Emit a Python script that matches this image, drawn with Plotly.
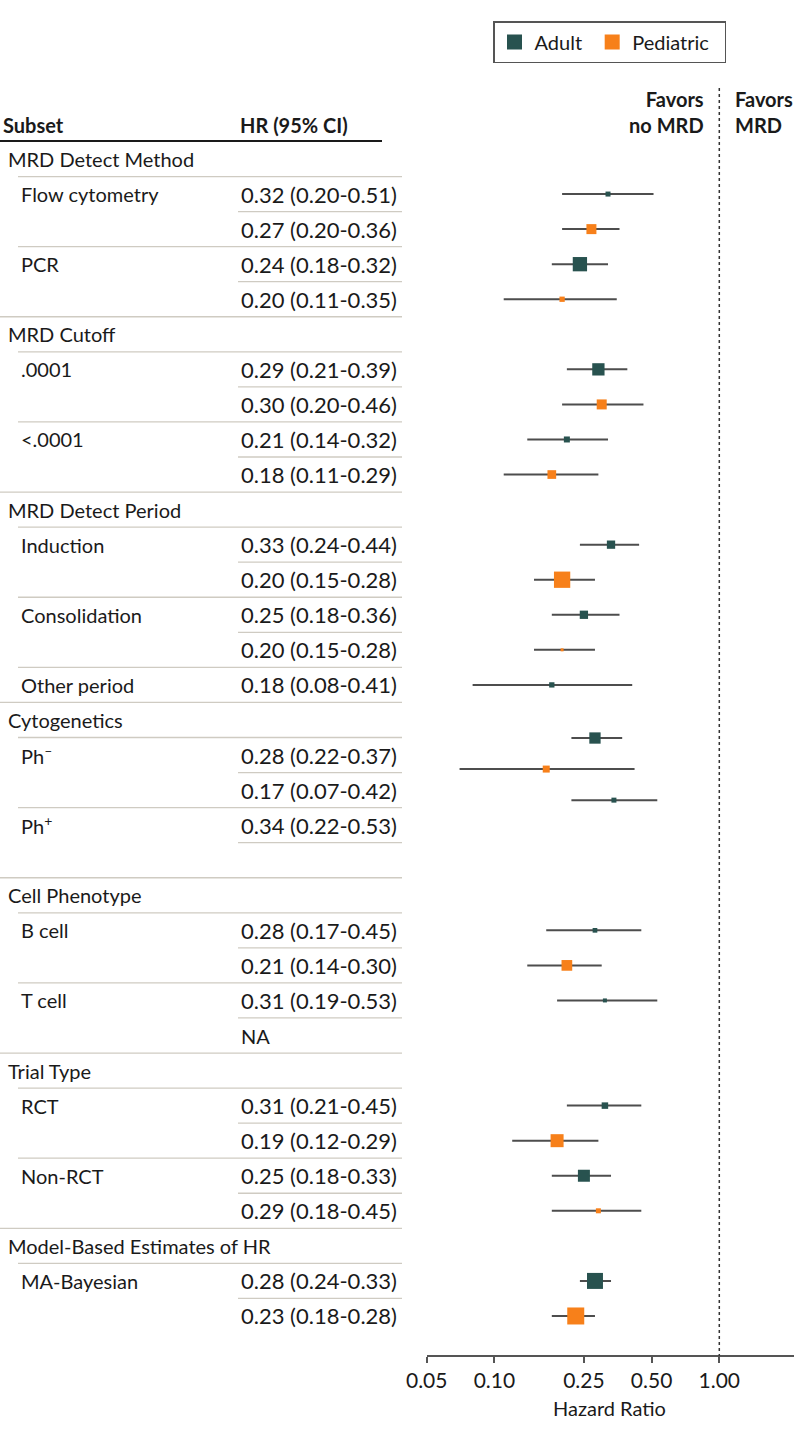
import math
import plotly.graph_objects as go

# ---------------- data ----------------
categories = ["MRD Detect Method", "MRD Cutoff", "MRD Detect Period", "Cytogenetics",
              "Cell Phenotype", "Trial Type", "Model-Based Estimates of HR"]
subsets = [["Flow cytometry", "PCR"],
           [".0001", "<.0001"],
           ["Induction", "Consolidation", "Other period"],
           ["Ph<sup>–</sup>", "Ph<sup>+</sup>"],
           ["B cell", "T cell"],
           ["RCT", "Non-RCT"],
           ["MA-Bayesian"]]
adult_hr = [0.32, 0.24, 0.29, 0.21, 0.33, 0.25, 0.18, 0.28, 0.34, 0.28, 0.31, 0.31, 0.25, 0.28]
adult_lo = [0.20, 0.18, 0.21, 0.14, 0.24, 0.18, 0.08, 0.22, 0.22, 0.17, 0.19, 0.21, 0.18, 0.24]
adult_hi = [0.51, 0.32, 0.39, 0.32, 0.44, 0.36, 0.41, 0.37, 0.53, 0.45, 0.53, 0.45, 0.33, 0.33]
pediatric_hr = [0.27, 0.20, 0.30, 0.18, 0.20, 0.20, None, 0.17, None, 0.21, None, 0.19, 0.29, 0.23]
pediatric_lo = [0.20, 0.11, 0.20, 0.11, 0.15, 0.15, None, 0.07, None, 0.14, None, 0.12, 0.18, 0.18]
pediatric_hi = [0.36, 0.35, 0.46, 0.29, 0.28, 0.28, None, 0.42, None, 0.30, None, 0.29, 0.45, 0.28]
# pediatric row kind: "est" estimate shown, "none" no row, "blank" empty row, "NA" text NA
pediatric_row = ["est", "est", "est", "est", "est", "est", "none", "est", "blank", "est", "NA",
                 "est", "est", "est"]
adult_weight = [5, 14.3, 12.3, 6, 8.3, 8.3, 5.3, 11.3, 5, 4.7, 4, 6.5, 12, 16]
pediatric_weight = [10, 5.3, 10, 8.7, 16.3, 3, None, 7, None, 10.7, None, 13, 5, 17]
tick_vals = [0.05, 0.10, 0.25, 0.50, 1.00]
tick_text = ["0.05", "0.10", "0.25", "0.50", "1.00"]

# ---------------- layout constants ----------------
W, H = 794, 1437
ROW0, ROWH = 159, 35.06
FONT = "Lato"
FS = 20
FS_NUM = 22
FS_TICK = 21
ADULT_C = "#28524f"
PED_C = "#f7801a"
CI_C = "#4d4d4d"
SEP_C = "#cfcbc2"
X_CAT, X_SUB, X_HR, X_END = 6, 19, 239, 402
PLOT_LEFT = 426.7
PX_PER_DEC = 224.9
AXIS_Y = 1356
MARK_SHIFT = {17: -17, 18: -21, 19: -25}  # marks in Cytogenetics block drawn slightly higher in source
NBSP = "\u00a0"


def fmt(h, l, u):
    return f"{h:.2f} ({l:.2f}-{u:.2f})"


rows = []
k = 0
for ci, cat in enumerate(categories):
    rows.append(dict(kind="cat", label=cat, text=""))
    for s in subsets[ci]:
        i = k
        rows.append(dict(kind="adult", label=s, text=fmt(adult_hr[i], adult_lo[i], adult_hi[i]), idx=i))
        pr = pediatric_row[i]
        if pr == "est":
            rows.append(dict(kind="ped", label="", text=fmt(pediatric_hr[i], pediatric_lo[i], pediatric_hi[i]), idx=i))
        elif pr == "blank":
            rows.append(dict(kind="ped", label="", text="", idx=i))
        elif pr == "NA":
            rows.append(dict(kind="ped", label="", text="NA", idx=i))
        k += 1


def ry(r):
    return ROW0 + ROWH * r


def px(x):
    return x / W


fig = go.Figure()
ann = []
shapes = []

ann.append(dict(x=px(1), y=125, text="<b>Subset</b>", xanchor="left"))
ann.append(dict(x=px(X_HR - 1), y=125, text="<b>HR (95% CI)</b>", xanchor="left"))
shapes.append(dict(type="line", xref="paper", yref="y", x0=0, x1=px(382), y0=141, y1=141,
                   line=dict(color="#1a1a1a", width=2)))

a_x, a_y, a_s, a_lx, a_ly = [], [], [], [], []
p_x, p_y, p_s, p_lx, p_ly = [], [], [], [], []

for r, row in enumerate(rows):
    y = ry(r)
    if row["kind"] == "cat":
        ann.append(dict(x=px(X_CAT), y=y, text=row["label"], xanchor="left"))
    else:
        if row["label"]:
            ann.append(dict(x=px(X_SUB), y=y, text=row["label"], xanchor="left"))
        if row["text"]:
            ann.append(dict(x=px(X_HR), y=y, text=row["text"], xanchor="left",
                            font=dict(size=FS_NUM if row["text"] != "NA" else FS)))
        i = row["idx"]
        my = y + MARK_SHIFT.get(r, 0)
        if row["kind"] == "adult":
            a_x.append(adult_hr[i]); a_y.append(my); a_s.append(adult_weight[i])
            a_lx += [adult_lo[i], adult_hi[i], None]; a_ly += [my, my, None]
        elif row["text"] and row["text"] != "NA":
            p_x.append(pediatric_hr[i]); p_y.append(my); p_s.append(pediatric_weight[i])
            p_lx += [pediatric_lo[i], pediatric_hi[i], None]; p_ly += [my, my, None]
    if r < len(rows) - 1:
        nxt = rows[r + 1]
        if row["kind"] == "cat":
            x0 = X_SUB - 1
        elif nxt["kind"] == "ped":
            x0 = X_HR - 1
        elif nxt["kind"] == "cat":
            x0 = 0
        else:
            x0 = X_SUB - 1
        yl = y + ROWH / 2
        shapes.append(dict(type="line", xref="paper", yref="y", x0=px(x0), x1=px(X_END), y0=yl, y1=yl,
                           line=dict(color=SEP_C, width=1.3)))

shapes.append(dict(type="line", xref="x", yref="y", x0=1, x1=1, y0=88, y1=AXIS_Y,
                   line=dict(color="#333333", width=1.5, dash="dot")))

ann.append(dict(x=px(706), y=112, text="<b>Favors<br>no MRD</b>", xanchor="right", align="right"))
ann.append(dict(x=px(733), y=112, text="<b>Favors<br>MRD</b>", xanchor="left", align="left"))
ann.append(dict(x=px(609), y=1408, text="Hazard Ratio", xanchor="center"))

fig.add_trace(go.Scatter(x=a_lx, y=a_ly, mode="lines", line=dict(color=CI_C, width=2),
                         showlegend=False, hoverinfo="skip"))
fig.add_trace(go.Scatter(x=p_lx, y=p_ly, mode="lines", line=dict(color=CI_C, width=2),
                         showlegend=False, hoverinfo="skip"))
fig.add_trace(go.Scatter(x=a_x, y=a_y, mode="markers", name="Adult", showlegend=False,
                         marker=dict(symbol="square", size=a_s, color=ADULT_C, opacity=1, line=dict(width=0))))
fig.add_trace(go.Scatter(x=p_x, y=p_y, mode="markers", name="Pediatric", showlegend=False,
                         marker=dict(symbol="square", size=p_s, color=PED_C, opacity=1, line=dict(width=0))))
fig.add_trace(go.Scatter(x=[None], y=[None], mode="markers", name="Adult" + NBSP,
                         marker=dict(symbol="square", size=15, color=ADULT_C)))
fig.add_trace(go.Scatter(x=[None], y=[None], mode="markers", name="Pediatric" + NBSP * 2,
                         marker=dict(symbol="square", size=15, color=PED_C)))

for a in ann:
    a.setdefault("xref", "paper")
    a.setdefault("yref", "y")
    a.setdefault("showarrow", False)
    a.setdefault("yanchor", "middle")

x_left = math.log10(0.05)
x_right = x_left + (W - PLOT_LEFT) / PX_PER_DEC

fig.update_layout(
    template="none",
    width=W, height=H,
    margin=dict(l=0, r=0, t=0, b=0, pad=0, autoexpand=False),
    paper_bgcolor="white", plot_bgcolor="white",
    font=dict(family=FONT, size=FS, color="#1a1a1a"),
    annotations=ann, shapes=shapes,
    xaxis=dict(type="log", range=[x_left, x_right], domain=[PLOT_LEFT / W, 1.0],
               anchor="free", position=1 - AXIS_Y / H, automargin=False,
               tickvals=tick_vals, ticktext=tick_text, ticks="outside", ticklen=6,
               tickcolor="#555555", tickwidth=1.5, showline=True, linecolor="#555555", linewidth=1.5,
               showgrid=False, zeroline=False, tickfont=dict(size=FS_TICK)),
    yaxis=dict(range=[H, 0], domain=[0, 1], visible=False, showgrid=False, zeroline=False,
               automargin=False),
    legend=dict(orientation="h", x=493 / W, y=1 - 21 / H, xanchor="left", yanchor="top",
                bordercolor="#555555", borderwidth=1.5, font=dict(size=FS),
                bgcolor="white"),
    showlegend=True,
)

fig.write_html("out.html", post_script="document.body.style.margin='0';",
               config={"displayModeBar": False})
